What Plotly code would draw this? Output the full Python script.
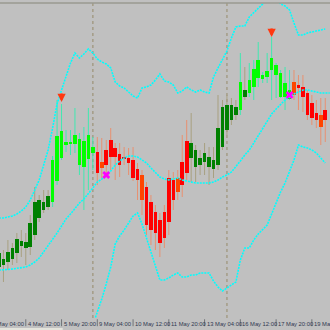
import plotly.graph_objects as go
import pandas as pd

# ---- categories: 4H bars, weekdays only ----
_t = pd.date_range("2011-05-03 04:00", "2011-05-19 20:00", freq="4h")
all_times = [t.strftime("%Y-%m-%d %H:%M") for t in _t if t.weekday() < 5]
bar_times = all_times[2:]  # visible bars start 3 May 12:00

# ---- OHLC (price points) and colour class per bar ----
opens  = [63,65,68,71,77,84,82,83,95,112,120,123,128,149,172,185,186,186,165,163,171,
          183,178,168,180,190,182,176,173,172,170,161,155,143,128,118,110,118,152,150,152,168,189,
          172,163,165,168,163,161,165,183,200,210,215,220,233,237,243,252,251,253,260,255,233,233,231,235,
          245,243,237,227,217,215,220,213]
highs  = [82,80,90,87,97,100,97,115,143,135,140,140,174,230,226,200,200,222,197,203,222,
          193,193,192,190,202,187,187,183,182,183,167,160,148,135,125,117,125,160,158,160,195,210,
          217,185,180,187,183,183,235,230,235,232,230,277,263,267,270,288,258,277,293,267,260,263,260,260,
          255,255,240,235,230,232,232,225]
lows   = [58,48,60,65,67,73,65,75,90,108,117,120,123,145,170,178,175,177,155,120,140,
          160,145,150,153,160,150,153,165,155,149,130,115,95,85,80,73,82,95,120,130,133,150,
          148,148,155,155,145,152,160,180,195,205,210,215,230,233,230,243,247,247,230,232,232,220,230,230,
          220,218,210,205,202,185,188,195]
closes = [77,71,78,82,91,89,88,107,128,130,128,134,170,194,199,188,188,195,191,189,195,
          177,157,162,165,173,173,165,171,167,152,150,130,105,100,97,87,92,108,130,138,145,157,
          187,180,172,177,173,170,202,223,225,225,223,248,240,250,261,270,255,259,272,265,257,247,240,248,
          242,233,215,212,210,203,210,202]
body_class = ["dg"]*12 + ["bg"]*10 + ["rd","or","rd","rd","rd","rd","rd","rd","rd","rd","or","rd","rd","rd","rd","rd","rd","rd","or","rd","rd"] \
    + ["dg"]*11 + ["bg","dg"] + ["bg"]*10 + ["or","rd","rd","rd","rd","rd","or","rd"]

# ---- Bollinger bands (20) ----
upper = [112,112,113,114,116,119,123,130,140,150,165,180,202,226,240,254,267,277,272,276,281,
         277,271,268,266,262,248,244,242,238,234,232,242,243,245,250,256,249,248,245,237,239,243,
         240,238,240,238,237,253,262,270,279,292,303,304,304,313,317,321,326,333,333,331,326,324,320,307,
         295,295,297,298,299,300,301]
middle = [60,60,60.5,61,61.5,62,63,65,68,72,78,84,91,97,104,111,116,122,127,131,136,
          142,148,151,154,159,165,169,172,174,174,173,170,167,162,157,153,151,150,151,152,150,149,
          148,147,147,147,147,148,150,153,155,158,163,169,175,180,187,194,202,209,216,221,226,230,233,236,
          238,240,240,239,238,237,237,237]
lower  = [8,8,8,8,7,5,3,0,-4,-6,-9,-12,-20,-32,-32,-32,-35,-33,-18,-14,-9,
          5,17,31,46,63,86,94,100,107,114,117,106,92,78,64,50,50,52,55,57,53,53,
          55,55,57,57,57,49,43,39,42,45,48,70,82,82,90,96,101,105,116,127,138,147,158,170,
          185,183,182,180,177,172,167]

# ---- markers ----
arrow_times = ["2011-05-05 20:00", "2011-05-17 16:00"]
arrow_vals = [228, 293]
cross_times = ["2011-05-09 12:00", "2011-05-18 08:00"]
cross_vals = [155, 235]

# ---- axis labels ----
tick_times = ["2011-05-03 04:00", "2011-05-04 12:00", "2011-05-05 20:00", "2011-05-09 04:00",
              "2011-05-10 12:00", "2011-05-11 20:00", "2011-05-13 04:00", "2011-05-16 12:00",
              "2011-05-17 20:00", "2011-05-19 04:00"]
tick_labels = ["3 May 04:00", "4 May 12:00", "5 May 20:00", "9 May 04:00", "10 May 12:00",
               "11 May 20:00", "13 May 04:00", "16 May 12:00", "17 May 20:00", "19 May 04:00"]
separators = ["2011-05-09 00:00", "2011-05-16 00:00"]

body_colors = {"bg": "#00FF00", "dg": "#008000", "rd": "#FF0000", "or": "#FF4500"}
wick_colors = {"bg": "#40E8B0", "dg": "#A8A080", "rd": "#E89070", "or": "#E89070"}

PX_PER_BAR = 4.47
X_RANGE = [2.23, 2.23 + 330 / PX_PER_BAR]

fig = go.Figure()

# wicks (upper and lower parts, so bodies are not crossed)
for cls in ["dg", "bg", "rd", "or"]:
    xs, ys = [], []
    for t, o, h, l, c, k in zip(bar_times, opens, highs, lows, closes, body_class):
        if k != cls:
            continue
        top, bot = max(o, c), min(o, c)
        xs += [t, t, None, t, t, None]
        ys += [h, top, None, bot, l, None]
    fig.add_trace(go.Scatter(x=xs, y=ys, mode="lines", line=dict(color=wick_colors[cls], width=1),
                             hoverinfo="skip", showlegend=False))

# bodies
for cls in ["dg", "bg", "rd", "or"]:
    idx = [i for i, k in enumerate(body_class) if k == cls]
    fig.add_trace(go.Bar(
        x=[bar_times[i] for i in idx],
        base=[opens[i] for i in idx],
        y=[closes[i] - opens[i] for i in idx],
        width=0.8, marker=dict(color=body_colors[cls], line=dict(width=0)),
        showlegend=False, hoverinfo="skip"))

# bands
for band in (upper, middle, lower):
    fig.add_trace(go.Scatter(x=bar_times, y=band, mode="lines",
                             line=dict(color="#00FFFF", width=1.6, dash="2px,1px"),
                             hoverinfo="skip", showlegend=False))

fig.add_trace(go.Scatter(x=cross_times, y=cross_vals, mode="markers",
                         marker=dict(symbol="x", size=7, color="#FF00FF", line=dict(width=0)),
                         hoverinfo="skip", showlegend=False))

# down arrows (tip at the value)
for t, v in zip(arrow_times, arrow_vals):
    fig.add_annotation(x=t, y=v, xref="x", yref="y", text="", showarrow=True,
                       ax=0, ay=-10, axref="pixel", ayref="pixel",
                       arrowhead=2, arrowsize=0.75, arrowwidth=2.2, arrowcolor="#FF3810")

for s in separators:
    fig.add_shape(type="line", x0=s, x1=s, y0=0, y1=1, xref="x", yref="paper",
                  line=dict(color="#A49C86", width=1.5, dash="dot"), layer="below")

for i, (t, lab) in enumerate(zip(tick_times, tick_labels)):
    # the first label's time lies left of the visible range: anchor it on a visible bar and shift back
    if i == 0:
        xa, shift = bar_times[1], -3 * PX_PER_BAR
    else:
        xa, shift = t, 0
    fig.add_shape(type="line", x0=t, x1=t, y0=-0.004, y1=-0.026, xref="x", yref="paper",
                  line=dict(color="#707478", width=1))
    fig.add_annotation(x=xa, y=-0.003, xref="x", yref="paper", text=lab, showarrow=False,
                       xanchor="left", yanchor="top", xshift=shift,
                       font=dict(family="Liberation Sans", size=5.8, color="#303850"))

fig.add_shape(type="line", xref="paper", yref="paper", x0=0, x1=1, y0=1.0, y1=1.0,
              line=dict(color="#9A9A90", width=1.5))
fig.add_shape(type="rect", xref="paper", yref="paper", x0=0, x1=0.19, y0=-0.038, y1=-0.032,
              line=dict(width=0), fillcolor="#E4E4DC")

fig.update_layout(
    width=330, height=330, margin=dict(l=0, r=0, t=3, b=12),
    paper_bgcolor="#C0C0C0", plot_bgcolor="#C0C0C0",
    barmode="overlay", bargap=0,
    xaxis=dict(type="category", categoryorder="array", categoryarray=all_times,
               range=X_RANGE, showgrid=False, showticklabels=False, zeroline=False,
               showline=False, ticks=""),
    yaxis=dict(range=[12, 327], visible=False),
)

fig.write_html("out.html")
